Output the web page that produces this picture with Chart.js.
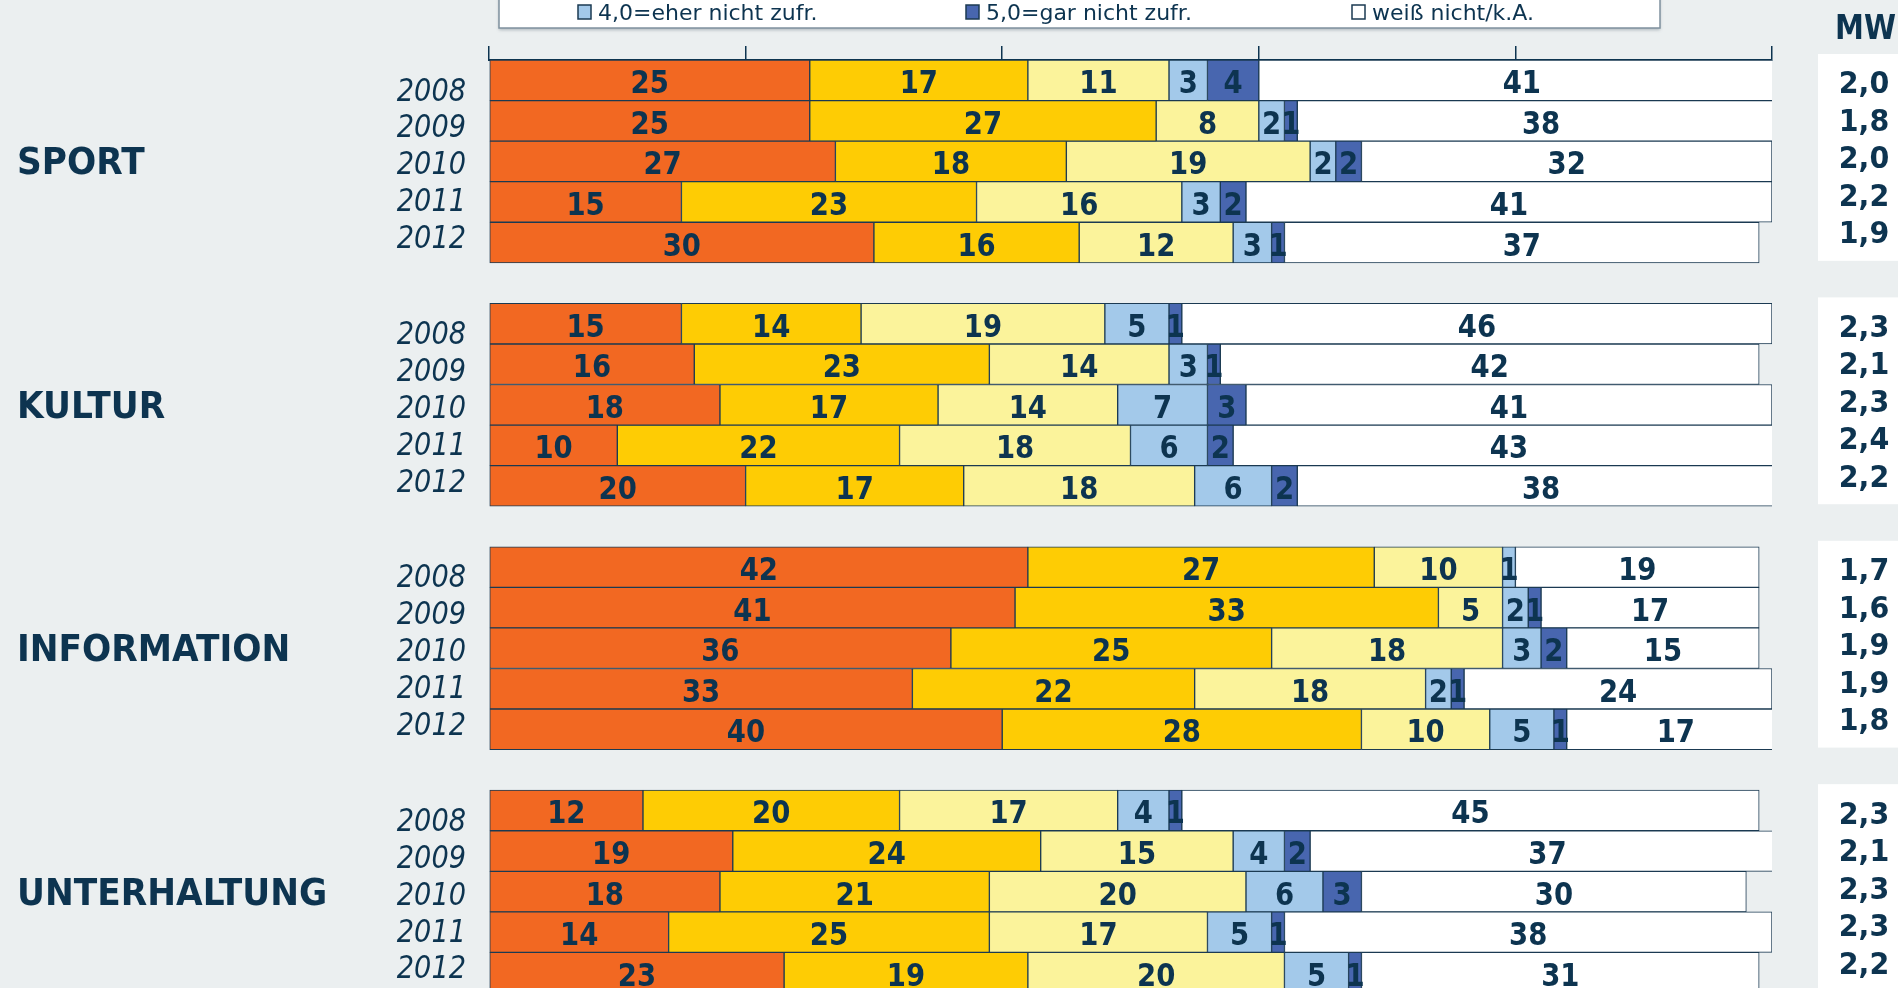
<!DOCTYPE html>
<html lang="de">
<head>
<meta charset="utf-8">
<title>Zufriedenheit nach Sparten 2008–2012</title>
<script src="https://cdn.jsdelivr.net/npm/chart.js@4.4.1/dist/chart.umd.min.js"></script>
<style>
    html, body { margin: 0; padding: 0; background: #ebeff0; overflow: hidden; }
    canvas { display: block; }
</style>
</head>
<body>
<canvas id="chart" width="1898" height="1000"></canvas>
<script>
// Categories
const years = ["2008", "2009", "2010", "2011", "2012"];
const groups = ["SPORT", "KULTUR", "INFORMATION", "UNTERHALTUNG"];
const seriesNames = ["1,0", "2,0", "3,0", "4,0=eher nicht zufr.", "5,0=gar nicht zufr.", "weiß nicht/k.A."];

// Shares in percent, one row per year: 1,0 | 2,0 | 3,0 | 4,0 | 5,0 | weiß nicht/k.A.
const sport = [
    [25, 17, 11, 3, 4, 41],
    [25, 27, 8, 2, 1, 38],
    [27, 18, 19, 2, 2, 32],
    [15, 23, 16, 3, 2, 41],
    [30, 16, 12, 3, 1, 37],
];
const kultur = [
    [15, 14, 19, 5, 1, 46],
    [16, 23, 14, 3, 1, 42],
    [18, 17, 14, 7, 3, 41],
    [10, 22, 18, 6, 2, 43],
    [20, 17, 18, 6, 2, 38],
];
const information = [
    [42, 27, 10, 1, 0, 19],
    [41, 33, 5, 2, 1, 17],
    [36, 25, 18, 3, 2, 15],
    [33, 22, 18, 2, 1, 24],
    [40, 28, 10, 5, 1, 17],
];
const unterhaltung = [
    [12, 20, 17, 4, 1, 45],
    [19, 24, 15, 4, 2, 37],
    [18, 21, 20, 6, 3, 30],
    [14, 25, 17, 5, 1, 38],
    [23, 19, 20, 5, 1, 31],
];

// Mittelwerte (MW)
const sportMw = [2.0, 1.8, 2.0, 2.2, 1.9];
const kulturMw = [2.3, 2.1, 2.3, 2.4, 2.2];
const informationMw = [1.7, 1.6, 1.9, 1.9, 1.8];
const unterhaltungMw = [2.3, 2.1, 2.3, 2.3, 2.2];

// Axis ticks (no labels, only marks)
const xTicks = [0, 20, 40, 60, 80, 100];

const NAVY = "#0d3450";
const BORDER = "#1b3a52";
const colors = ["#f26822", "#fecc04", "#fbf39b", "#a3c9ea", "#4866af", "#ffffff"];
const FONT = "'DejaVu Sans', Verdana, sans-serif";

// Flatten blocks into one category axis, with an empty row between groups
const blocks = [sport, kultur, information, unterhaltung];
const mwBlocks = [sportMw, kulturMw, informationMw, unterhaltungMw];
const labels = [];
const rows = [];
const groupIndex = [];
blocks.forEach((block, g) => {
    if (g > 0) {
        labels.push("");
        rows.push(null);
    }
    groupIndex.push(rows.length);
    block.forEach((r, i) => {
        labels.push(years[i]);
        rows.push(r);
    });
});

const datasets = seriesNames.map((name, k) => ({
    label: name,
    data: rows.map((r) => (r ? r[k] : null)),
    backgroundColor: colors[k],
    borderColor: BORDER,
    borderWidth: 1,
    borderSkipped: false,
    barPercentage: 1,
    categoryPercentage: 1,
    clip: 0,
}));

function drawText(ctx, text, x, y, sx, align) {
    ctx.save();
    ctx.translate(x, y);
    ctx.scale(sx, 1);
    ctx.textAlign = align;
    ctx.textBaseline = "alphabetic";
    ctx.fillText(text, 0, 0);
    ctx.restore();
}

// Side texts (years, MW) sit a little tighter than the bars, centred on the middle row
function sideRowY(y, g, i, squeeze) {
    const mid = y.getPixelForValue(groupIndex[g] + 2);
    const band = y.getPixelForValue(1) - y.getPixelForValue(0);
    return mid + (i - 2) * band * squeeze;
}

// Year labels, group names, MW column and the visible legend row
const annotations = {
    id: "annotations",
    beforeDatasetsDraw(chart) {
        const { ctx } = chart;
        const y = chart.scales.y;
        const band = y.getPixelForValue(1) - y.getPixelForValue(0);
        ctx.save();
        ctx.fillStyle = "#ffffff";
        groupIndex.forEach((start) => {
            const top = y.getPixelForValue(start) - band / 2 - 6;
            const bottom = y.getPixelForValue(start + 4) + band / 2 - 2;
            ctx.fillRect(1818, top, 80, bottom - top);
        });
        ctx.restore();
    },
    afterDatasetsDraw(chart) {
        const { ctx } = chart;
        const y = chart.scales.y;
        ctx.save();
        ctx.fillStyle = NAVY;

        // values inside the segments
        ctx.font = `bold 32px ${FONT}`;
        chart.data.datasets.forEach((ds, i) => {
            chart.getDatasetMeta(i).data.forEach((bar, j) => {
                const v = ds.data[j];
                if (!v) {
                    return;
                }
                const p = bar.getProps(["x", "base", "y"], true);
                drawText(ctx, String(v), (p.x + p.base) / 2, p.y + 13, 0.86, "center");
            });
        });

        // years
        ctx.font = `italic 32px ${FONT}`;
        groups.forEach((name, g) => {
            years.forEach((yr, i) => {
                drawText(ctx, yr, 466, sideRowY(y, g, i, 0.91) + 13, 0.85, "right");
            });
        });

        // group names
        ctx.font = `bold 37px ${FONT}`;
        groups.forEach((name, g) => {
            drawText(ctx, name, 17, y.getPixelForValue(groupIndex[g] + 2) + 13, 0.93, "left");
        });

        // MW column
        ctx.font = `bold 33px ${FONT}`;
        drawText(ctx, "MW", 1896, 39, 0.88, "right");
        ctx.font = `bold 30px ${FONT}`;
        mwBlocks.forEach((mws, g) => {
            mws.forEach((mw, i) => {
                const label = mw.toFixed(1).replace(".", ",");
                drawText(ctx, label, 1864, sideRowY(y, g, i, 0.925) + 7, 0.95, "center");
            });
        });

        // legend box (upper row lies above the page)
        ctx.shadowColor = "rgba(60, 80, 95, 0.35)";
        ctx.shadowOffsetY = 2;
        ctx.shadowBlur = 3;
        ctx.fillStyle = "#ffffff";
        ctx.fillRect(499, -40, 1161, 68);
        ctx.shadowColor = "transparent";
        ctx.strokeStyle = "#7f919e";
        ctx.lineWidth = 1.5;
        ctx.strokeRect(499, -40, 1161, 68);

        const legendX = [578, 966, 1352];
        ctx.font = `22px ${FONT}`;
        [3, 4, 5].forEach((k, n) => {
            ctx.fillStyle = colors[k];
            ctx.fillRect(legendX[n], 5, 13, 14);
            ctx.strokeStyle = BORDER;
            ctx.lineWidth = 1.5;
            ctx.strokeRect(legendX[n], 5, 13, 14);
            ctx.fillStyle = NAVY;
            drawText(ctx, seriesNames[k], legendX[n] + 20, 20, 1, "left");
        });
        ctx.restore();
    },
};

new Chart(document.getElementById("chart"), {
    type: "bar",
    data: { labels, datasets },
    options: {
        indexAxis: "y",
        responsive: false,
        animation: false,
        devicePixelRatio: 1,
        layout: { padding: { left: 489, right: 126, top: 46, bottom: 7 } },
        plugins: {
            legend: { display: false },
            tooltip: { enabled: false },
        },
        scales: {
            x: {
                position: "top",
                stacked: true,
                min: xTicks[0],
                max: xTicks[xTicks.length - 1],
                afterBuildTicks: (scale) => {
                    scale.ticks = xTicks.map((v) => ({ value: v }));
                },
                ticks: { display: false },
                grid: {
                    drawOnChartArea: false,
                    drawTicks: true,
                    tickLength: 14,
                    color: NAVY,
                    lineWidth: 1.5,
                },
                border: { display: true, color: NAVY, width: 2 },
            },
            y: {
                display: false,
                stacked: true,
            },
        },
    },
    plugins: [annotations],
});
</script>
</body>
</html>
